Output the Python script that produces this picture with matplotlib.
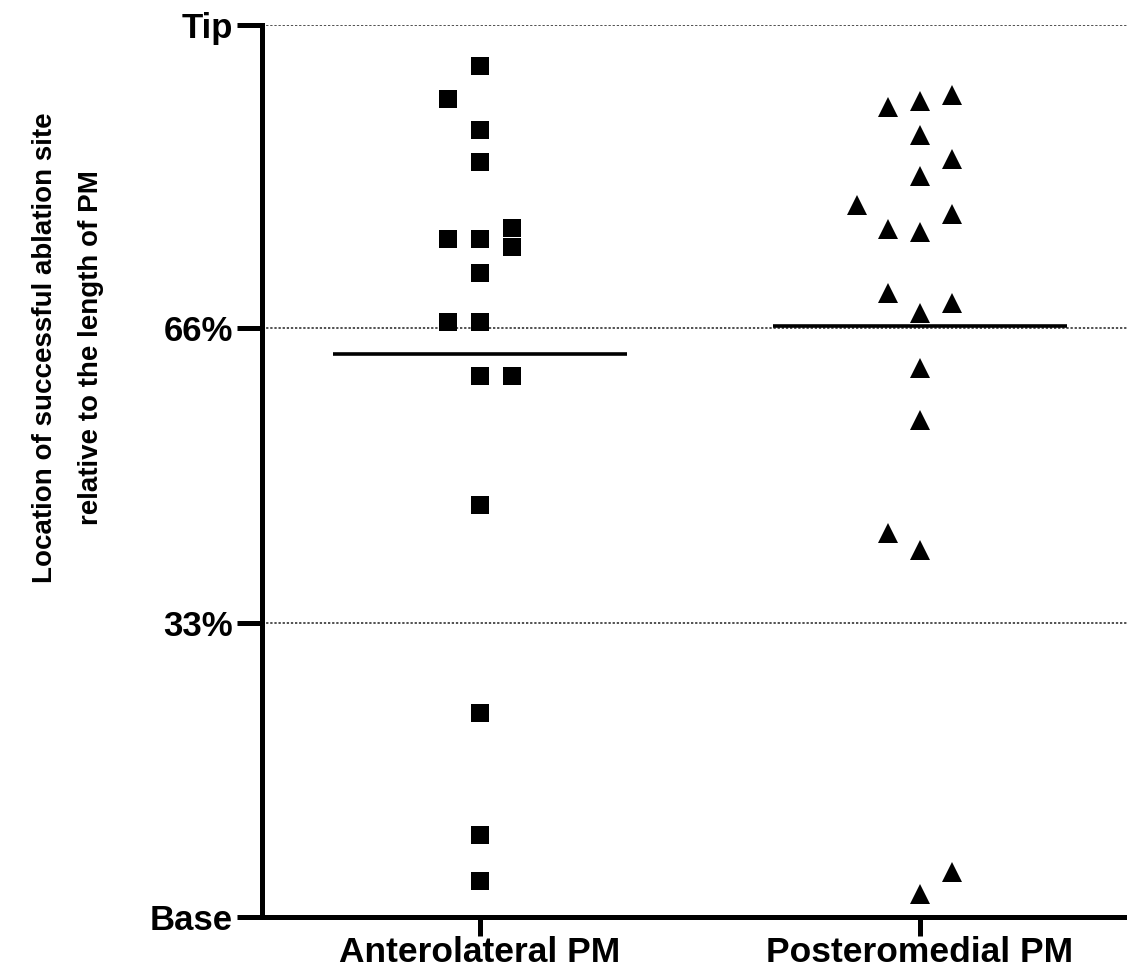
import numpy as np
import matplotlib
matplotlib.use("Agg")
from matplotlib import pyplot as plt
from matplotlib import font_manager

# site of successful ablation, % of PM length (0 = base, 100 = tip)
groups = ["Anterolateral PM", "Posteromedial PM"]

al_values = [95.4, 91.7, 88.2, 84.6, 77.2, 76.0, 76.0, 75.1, 72.2,
             66.7, 66.7, 60.7, 60.7, 46.2, 22.9, 9.2, 4.0]
al_column = [0, -1, 0, 0, 1, -1, 0, 1, 0, -1, 0, 0, 1, 0, 0, 0, 0]

pm_values = [90.8, 91.5, 92.2, 87.7, 85.0, 83.1, 79.8, 77.1, 76.8, 78.8,
             69.9, 68.8, 67.7, 61.5, 55.7, 43.0, 41.1, 5.1, 2.6]
pm_column = [-1, 0, 1, 0, 1, 0, -2, -1, 0, 1, -1, 1, 0, 0, 0, -1, 0, 1, 0]

ytick_pos = [0, 33, 66, 100]
ytick_labels = ["Base", "33%", "66%", "Tip"]

ylabel = "Location of successful ablation site\nrelative to the length of PM"

# fonts
names = {f.name for f in font_manager.fontManager.ttflist}
if "Liberation Sans Narrow" in names:
    label_font = dict(family="Liberation Sans Narrow", size=24)
else:
    label_font = dict(family="Liberation Sans", size=20)

plt.rcParams["font.family"] = ["Liberation Sans", "DejaVu Sans"]

W, H = 1127, 976
fig = plt.figure(figsize=(W / 100, H / 100), dpi=100)
ax = fig.add_axes([262 / W, 1 - 917 / H, 1 - 262 / W, (917 - 25) / H])

step = 0.072  # jitter column spacing
for i, (vals, cols, mk, ms) in enumerate([(al_values, al_column, "s", 13.5),
                                          (pm_values, pm_column, "^", 14.5)]):
    x = i + np.array(cols) * step
    ax.plot(x, vals, linestyle="none", marker=mk, markersize=ms,
            color="black", markeredgewidth=0, zorder=3)
    m = np.mean(vals)
    ax.plot([i - 0.335, i + 0.335], [m, m], color="black", lw=2.6, zorder=4,
            solid_capstyle="butt")

for y in ytick_pos[1:]:
    ax.axhline(y, color="#222222", lw=1.1, linestyle=(0, (1.5, 1.2)), zorder=1)

ax.set_xlim((262 - 480) / 440, (1127 - 480) / 440)
ax.set_ylim(0, 100)

ax.set_yticks(ytick_pos)
ax.set_yticklabels(ytick_labels, fontsize=25, fontweight="bold")
ax.set_xticks([0, 1])
ax.set_xticklabels(groups, fontsize=25.5, fontweight="bold")

ax.tick_params(axis="y", length=18, width=3.6, pad=3)
ax.tick_params(axis="x", length=14, width=3.6, pad=0)

for s in ["top", "right"]:
    ax.spines[s].set_visible(False)
for s in ["left", "bottom"]:
    ax.spines[s].set_linewidth(3.6)
    ax.spines[s].set_capstyle("projecting")

fig.text(68 / W, 1 - 348 / H, ylabel, rotation=90, ha="center", va="center",
         multialignment="center", fontweight="bold", linespacing=2.0,
         **label_font)

fig.savefig("out.png", dpi=100, facecolor="white")
